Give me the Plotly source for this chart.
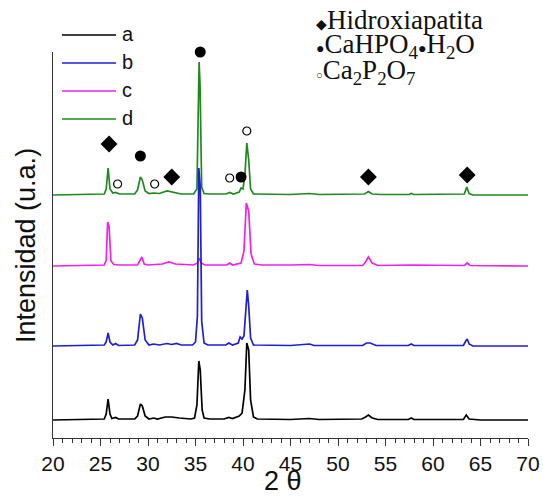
import plotly.graph_objects as go

# ---- XRD patterns (2θ, relative intensity above each pattern's baseline) ----
a_x = [20, 24.5, 25.4, 25.6, 25.8, 26.0, 26.2, 26.6, 26.9, 28.6, 28.9, 29.2, 29.4, 29.7, 30.1, 30.6, 31.0,
       31.8, 32.5, 33.3, 34.5, 34.9, 35.15, 35.35, 35.5, 35.7, 35.9, 36.5, 38.0, 38.5, 38.9, 39.6, 39.9,
       40.2, 40.4, 40.6, 40.8, 41.1, 41.5, 45, 47, 48, 52.5, 52.9, 53.2, 53.6, 54.2, 57.4, 57.7, 58,
       63.2, 63.5, 63.8, 65, 70]
a_y = [0, 0.5, 1, 6, 21, 6, 1.5, 2.5, 1, 1, 4, 16, 14, 4, 1, 2, 1,
       3, 3, 2, 1, 2, 15, 59, 50, 10, 2, 1, 1, 2.5, 1.5, 4, 7,
       30, 77, 70, 20, 3, 1, 0.5, 1.5, 0.5, 1, 3, 5, 2, 0.5, 0.5, 2, 0.5,
       0.5, 5, 1, 0, 0]

b_x = [20, 25.4, 25.6, 25.8, 26.0, 26.3, 26.6, 26.9, 28.6, 28.9, 29.2, 29.4, 29.7, 30.1, 30.6, 31.2,
       32.0, 32.5, 33.0, 33.5, 34.7, 35.0, 35.2, 35.35, 35.5, 35.65, 35.9, 36.3, 38.2, 38.5, 38.9,
       39.5, 39.7, 39.9, 40.1, 40.3, 40.45, 40.6, 40.8, 41.1, 45, 47, 47.5, 52.6, 53.0, 53.4, 54,
       57.4, 57.7, 58, 63.2, 63.45, 63.6, 63.8, 64.2, 70]
b_y = [0, 1, 4, 13, 4, 1, 2.5, 0.5, 1, 6, 32, 28, 6, 1, 2, 1,
       2.5, 1.5, 2.5, 1, 1, 4, 30, 178, 160, 25, 3, 1, 1, 3, 1,
       3, 9, 7, 10, 40, 56, 40, 8, 1, 0.5, 2, 0.5, 0.5, 3, 3, 0.5,
       0.5, 2, 0.5, 0.5, 5, 7, 2, 0, 0]

c_x = [20, 25.4, 25.6, 25.75, 25.9, 26.1, 26.4, 27, 28.9, 29.2, 29.35, 29.6, 30, 31.5, 32.2, 32.9,
       34.8, 35.2, 35.4, 35.6, 36, 38.3, 38.6, 38.9, 39.8, 40.1, 40.35, 40.6, 40.85, 41.2, 42, 45,
       47, 48, 52.6, 52.9, 53.2, 53.6, 54.2, 57.7, 63.3, 63.6, 63.9, 70]
c_y = [0, 1, 6, 44, 40, 5, 1.5, 1, 1, 7, 9, 2, 1, 2, 4, 2,
       1, 3, 8, 3, 1, 1, 3, 1, 3, 15, 63, 55, 12, 2, 1, 1,
       1.5, 0.5, 0.5, 4, 9, 3, 0.5, 1, 0.5, 3, 0.5, 0]

d_x = [20, 25.4, 25.6, 25.8, 26.0, 26.3, 26.6, 27, 28.6, 28.9, 29.2, 29.4, 29.7, 30.1, 30.6, 31.2,
       32, 32.7, 33.5, 34.8, 35.15, 35.38, 35.48, 35.65, 35.9, 36.5, 38.2, 38.6, 39, 39.6, 39.8, 40.0,
       40.2, 40.4, 40.6, 40.8, 41.1, 45, 47, 48, 49.5, 52.8, 53.2, 53.6, 54.5, 57.5, 57.7, 58,
       63.3, 63.55, 63.8, 64.2, 70]
d_y = [0, 1, 6, 27, 6, 2, 2.5, 1, 1, 5, 18, 15, 4, 1.5, 2, 1.5,
       4, 2.5, 1, 1, 6, 133, 110, 8, 1.5, 1, 1, 2.5, 1, 3, 7, 6,
       20, 52, 35, 6, 1, 0.5, 1.5, 0.5, 0.5, 1, 3.5, 1, 0.5, 0.5, 1.5, 0.5,
       1, 8, 1.5, 0, 0]

series_names = ["a", "b", "c", "d"]
series_x = [a_x, b_x, c_x, d_x]
series_y = [a_y, b_y, c_y, d_y]
offsets = [18, 92, 172, 243]
colors = ["#000000", "#1f1fd2", "#ee22ee", "#1e8a1e"]

# ---- phase markers (2θ, vertical position in the same units) ----
hap_x = [25.9, 32.5, 53.2, 63.6]
hap_y = [294, 261, 261, 263]
dcpd_x = [29.2, 35.5, 39.8]
dcpd_y = [282, 386, 261]
cpp_x = [26.8, 30.7, 38.6, 40.4]
cpp_y = [254, 254, 260, 307]

ticks_x = [20, 25, 30, 35, 40, 45, 50, 55, 60, 65, 70]

fig = go.Figure()
draw_order = [3, 2, 0, 1]
for i in draw_order:
    fig.add_trace(go.Scatter(
        x=series_x[i], y=[v + offsets[i] for v in series_y[i]],
        mode="lines", name=series_names[i],
        line=dict(color=colors[i], width=1.7), showlegend=False))

fig.add_trace(go.Scatter(x=hap_x, y=hap_y, mode="markers", cliponaxis=False, showlegend=False,
                         marker=dict(symbol="diamond", size=13, color="black")))
fig.add_trace(go.Scatter(x=dcpd_x, y=dcpd_y, mode="markers", cliponaxis=False, showlegend=False,
                         marker=dict(symbol="circle", size=11, color="black")))
fig.add_trace(go.Scatter(x=cpp_x, y=cpp_y, mode="markers", cliponaxis=False, showlegend=False,
                         marker=dict(symbol="circle-open", size=8, color="black",
                                     line=dict(width=1.2, color="#222"))))

L, R, T, B = 53, 15, 52, 58
W, H = 543, 496
pw, ph = W - L - R, H - T - B


def px(xp):
    return (xp - L) / pw


def py(yp):
    return (H - B - yp) / ph


shapes = []
annotations = []
leg_y = [35, 63, 91, 119]
for i, name in enumerate(series_names):
    shapes.append(dict(type="line", xref="paper", yref="paper",
                       x0=px(62), x1=px(116), y0=py(leg_y[i]), y1=py(leg_y[i]),
                       line=dict(color=colors[i], width=1.7)))
    annotations.append(dict(text=name, xref="paper", yref="paper", x=px(120), y=py(leg_y[i] - 1),
                            xanchor="left", yanchor="middle", showarrow=False,
                            font=dict(family="Liberation Sans, Arial", size=20, color="#111")))

serif = "Liberation Serif, Times New Roman"
phase_labels = [
    ("<span style='font-size:14px'>◆</span>Hidroxiapatita", 20),
    ("<span style='font-size:14px'>●</span>CaHPO<sub>4</sub><span style='font-size:14px'>●</span>H<sub>2</sub>O", 46),
    ("<span style='font-size:11px'>○</span>Ca<sub>2</sub>P<sub>2</sub>O<sub>7</sub>", 72),
]
for txt, yy in phase_labels:
    annotations.append(dict(text=txt, xref="paper", yref="paper", x=px(314), y=py(yy),
                            xanchor="left", yanchor="middle", showarrow=False,
                            font=dict(family=serif, size=27, color="#111")))

annotations.append(dict(text="Intensidad (u.a.)", xref="paper", yref="paper", x=px(26), y=py(246),
                        xanchor="center", yanchor="middle", textangle=-90, showarrow=False,
                        font=dict(family="Liberation Sans, Arial", size=27, color="#111")))
annotations.append(dict(text="2 θ", xref="paper", yref="paper", x=px(283), y=py(481),
                        xanchor="center", yanchor="middle", showarrow=False,
                        font=dict(family="Liberation Sans, Arial", size=27, color="#111")))

fig.update_layout(
    width=W, height=H, margin=dict(l=L, r=R, t=T, b=B, autoexpand=False),
    paper_bgcolor="white", plot_bgcolor="white",
    shapes=shapes, annotations=annotations, showlegend=False,
    xaxis=dict(range=[20, 70], tickvals=ticks_x, ticks="outside", ticklen=7, tickwidth=1,
               tickcolor="#333", showline=True, linecolor="#333", linewidth=1,
               showgrid=False, zeroline=False, automargin=False,
               tickfont=dict(family="Liberation Sans, Arial", size=21, color="#111"),
               minor=dict(dtick=1, ticks="outside", ticklen=4, tickcolor="#333", showgrid=False)),
    yaxis=dict(range=[0, 386], showticklabels=False, ticks="", showline=True, linecolor="#333",
               linewidth=1, showgrid=False, zeroline=False, automargin=False),
)

fig.write_html("out.html")
